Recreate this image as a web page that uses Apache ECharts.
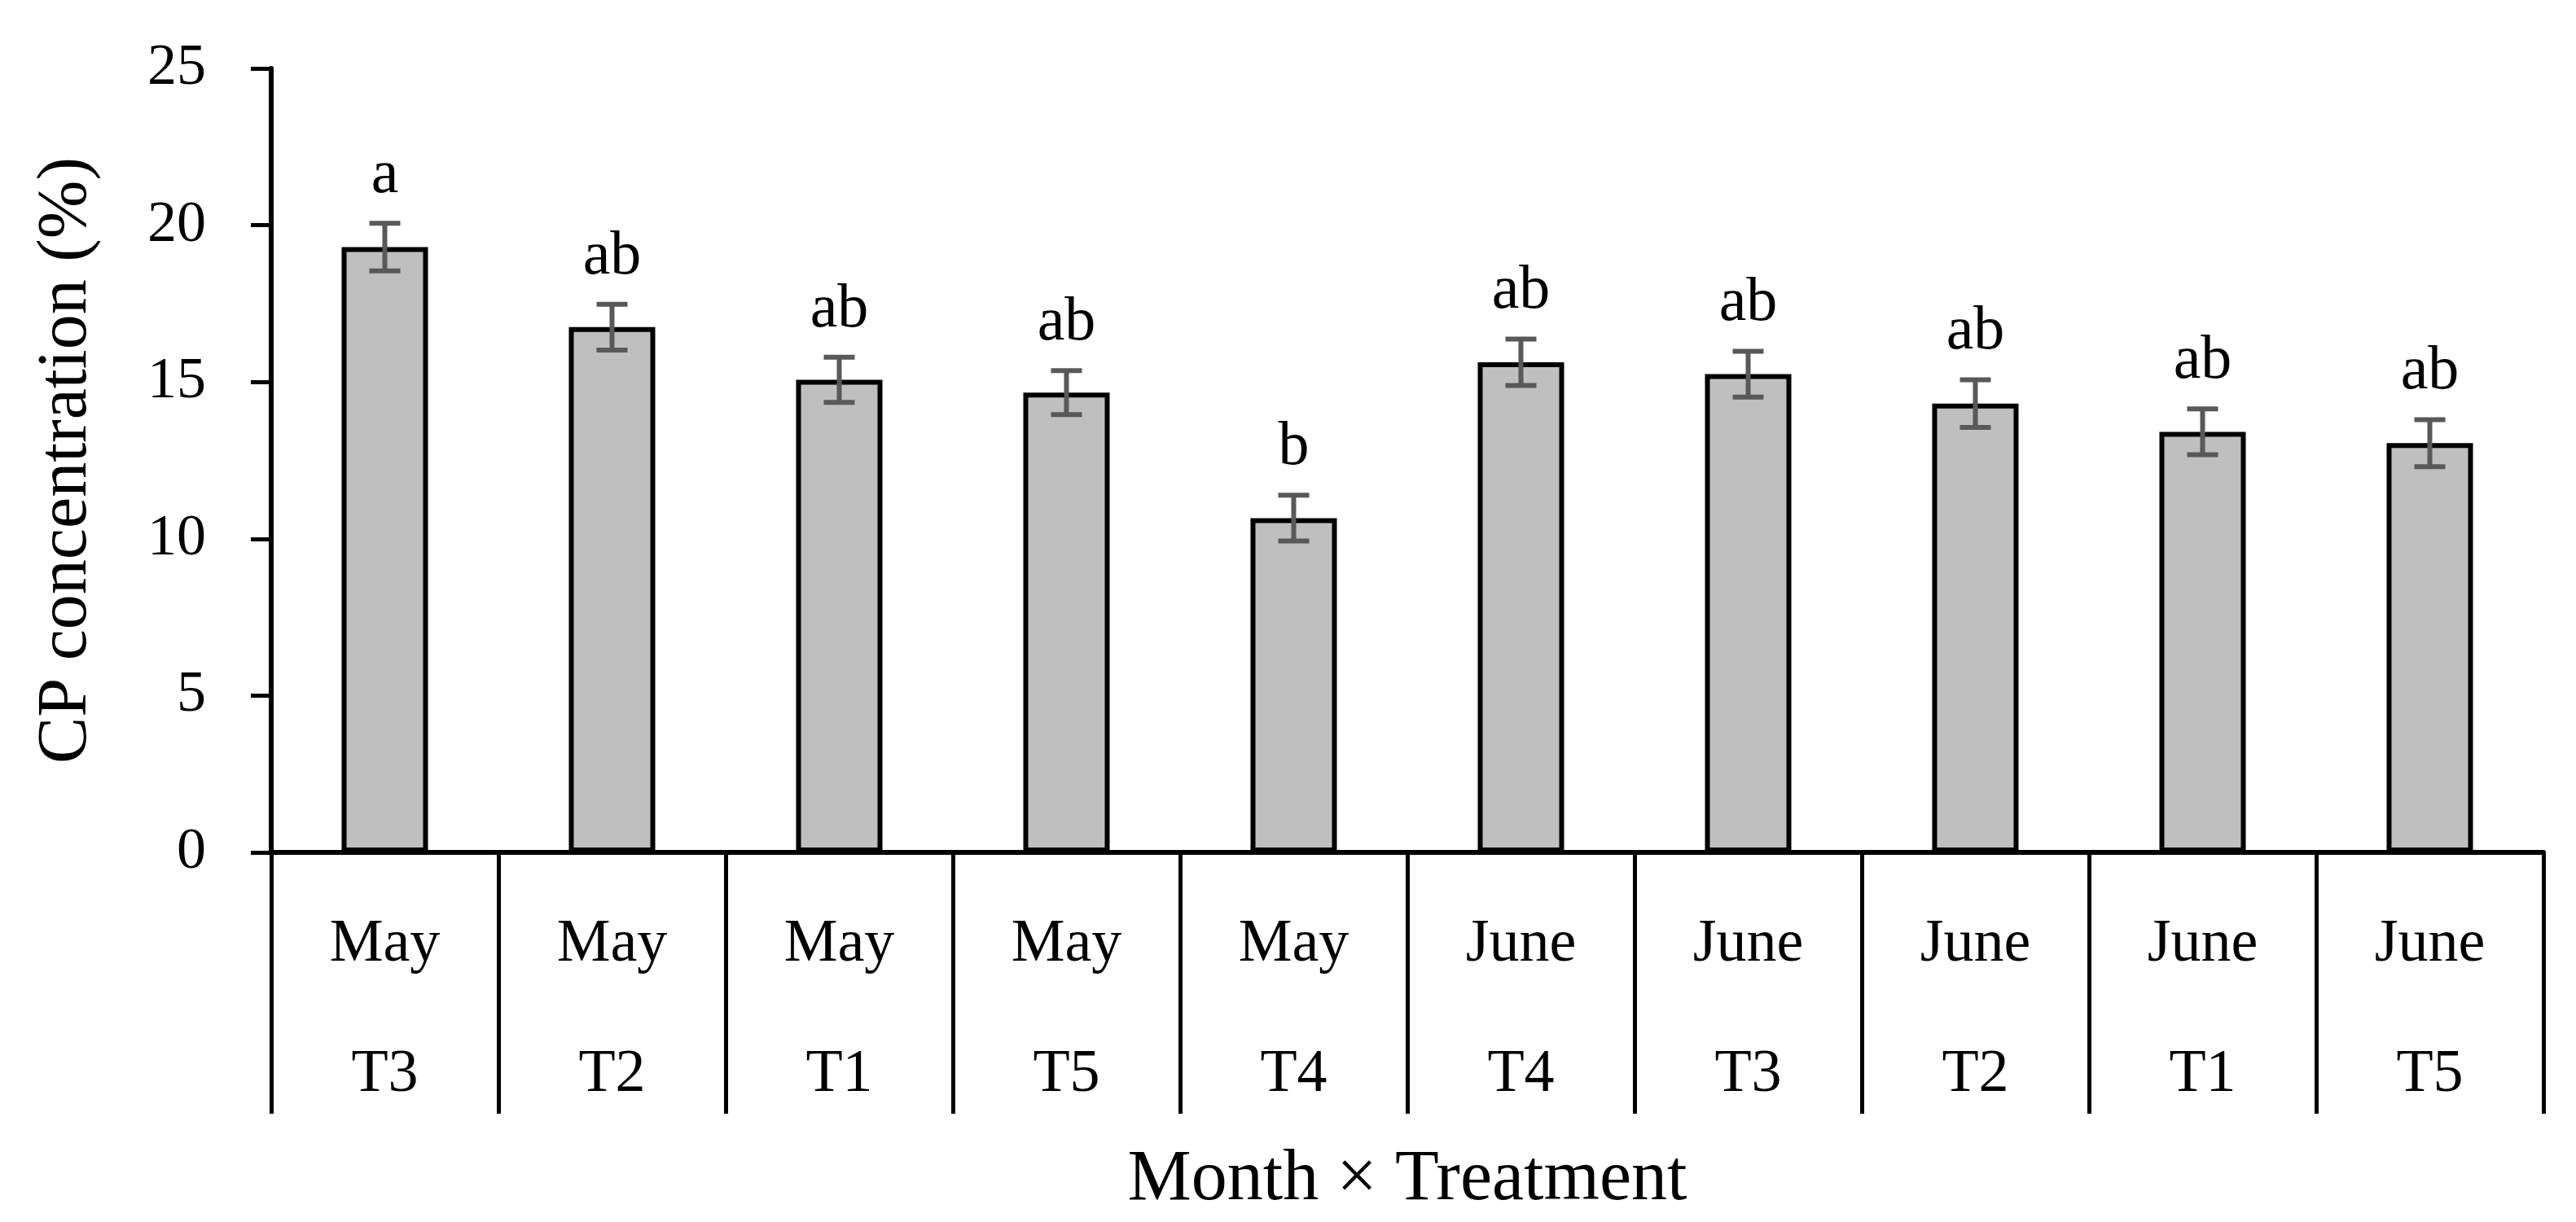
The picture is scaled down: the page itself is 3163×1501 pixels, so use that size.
<!DOCTYPE html>
<html>
<head>
<meta charset="utf-8">
<title>CP concentration</title>
<script src="https://cdn.jsdelivr.net/npm/echarts@6/dist/echarts.min.js"></script>
<style>
  html, body { margin: 0; padding: 0; background: #fff; }
  #chart { width: 3163px; height: 1501px; }
</style>
</head>
<body>
<div id="chart"></div>
<script>
// data
var months = ['May', 'May', 'May', 'May', 'May', 'June', 'June', 'June', 'June', 'June'];
var treatments = ['T3', 'T2', 'T1', 'T5', 'T4', 'T4', 'T3', 'T2', 'T1', 'T5'];
var cpMean = [19.3, 16.75, 15.07, 14.66, 10.66, 15.63, 15.25, 14.31, 13.41, 13.05];
var cpErr = [0.76, 0.73, 0.72, 0.70, 0.73, 0.74, 0.73, 0.76, 0.73, 0.75];
var letters = ['a', 'ab', 'ab', 'ab', 'b', 'ab', 'ab', 'ab', 'ab', 'ab'];
var yTicks = { min: 0, max: 25, interval: 5 };

var font = '"Liberation Serif", "DejaVu Serif", serif';

// two line category labels: month over treatment
var categories = months.map(function (m, i) { return m + '\n' + treatments[i]; });

var chart = echarts.init(document.getElementById('chart'));

var option = {
  backgroundColor: '#fff',
  animation: false,
  grid: { left: 333, right: 40, top: 84, bottom: 454, containLabel: false },
  xAxis: {
    type: 'category',
    data: categories,
    name: 'Month \u00d7 Treatment',
    nameLocation: 'middle',
    nameGap: 345,
    nameTextStyle: { fontFamily: font, fontSize: 88, color: '#000' },
    axisLine: { show: true, lineStyle: { color: '#000', width: 6 } },
    axisTick: { show: true, inside: false, length: 321, alignWithLabel: false, interval: 0,
      lineStyle: { color: '#000', width: 5 } },
    axisLabel: { interval: 0, margin: 34, fontFamily: font, fontSize: 74, lineHeight: 160, color: '#000' },
    splitLine: { show: false }
  },
  yAxis: {
    type: 'value',
    min: yTicks.min,
    max: yTicks.max,
    interval: yTicks.interval,
    name: 'CP concentration (%)',
    nameLocation: 'middle',
    nameGap: 208,
    nameTextStyle: { fontFamily: font, fontSize: 86, color: '#000' },
    axisLine: { show: true, lineStyle: { color: '#000', width: 6 } },
    axisTick: { show: true, inside: false, length: 25, lineStyle: { color: '#000', width: 5 } },
    axisLabel: { margin: 80, fontFamily: font, fontSize: 72, color: '#000' },
    splitLine: { show: false }
  },
  series: [
    {
      type: 'bar',
      data: cpMean,
      barWidth: '38%',
      itemStyle: { color: '#bfbfbf', borderColor: '#000', borderWidth: 6 }
    },
    {
      // error bars plus the significance letters
      type: 'custom',
      data: cpMean.map(function (v, i) { return [i, v - cpErr[i], v + cpErr[i]]; }),
      renderItem: function (params, api) {
        var i = api.value(0);
        var lo = api.coord([i, api.value(1)]);
        var hi = api.coord([i, api.value(2)]);
        var cap = 19;
        var line = { stroke: '#595959', lineWidth: 6 };
        return {
          type: 'group',
          children: [
            { type: 'line', shape: { x1: hi[0], y1: hi[1], x2: lo[0], y2: lo[1] }, style: line },
            { type: 'line', shape: { x1: hi[0] - cap, y1: hi[1], x2: hi[0] + cap, y2: hi[1] }, style: line },
            { type: 'line', shape: { x1: lo[0] - cap, y1: lo[1], x2: lo[0] + cap, y2: lo[1] }, style: line },
            { type: 'text', x: hi[0], y: hi[1] - 20,
              style: { text: letters[i], fill: '#000', font: '76px ' + font,
                textAlign: 'center', textVerticalAlign: 'bottom' } }
          ]
        };
      },
      z: 3
    }
  ]
};

chart.setOption(option);
</script>
</body>
</html>
